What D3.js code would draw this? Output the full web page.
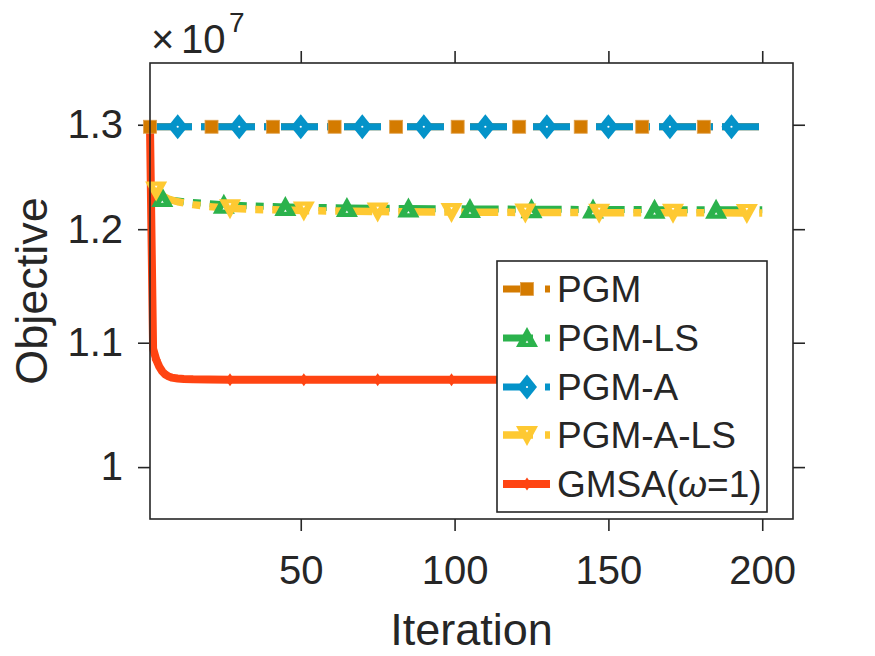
<!DOCTYPE html>
<html>
<head>
<meta charset="utf-8">
<script src="https://cdn.jsdelivr.net/npm/d3@7"></script>
<style>
  html, body { margin: 0; padding: 0; background: #fff; }
  svg { display: block; }
  text { font-family: "Liberation Sans", Arial, Helvetica, sans-serif; fill: #262626; }
</style>
</head>
<body>
<svg id="chart" width="875" height="656"></svg>
<script>
// ---- Data (objective values in units of 1e7) ----
const xTicks = [50, 100, 150, 200];
const yTicks = [1.0, 1.1, 1.2, 1.3];
const yTickLabels = ["1", "1.1", "1.2", "1.3"];
const seriesNames = ["PGM", "PGM-LS", "PGM-A", "PGM-A-LS", "GMSA(\u03c9=1)"];

const pgmIter = [1, 21, 41, 61, 81, 101, 121, 141, 161, 181, 200];
const pgmVal  = [1.298, 1.298, 1.298, 1.298, 1.298, 1.298, 1.298, 1.298, 1.298, 1.298, 1.298];
const pgmMarkers = [1, 21, 41, 61, 81, 101, 121, 141, 161, 181];

const pgmLsIter = [1, 2, 3, 5, 8, 12, 18, 25, 35, 45, 65, 85, 105, 125, 145, 165, 185, 200];
const pgmLsVal  = [1.243, 1.236, 1.232, 1.229, 1.227, 1.2255, 1.2242, 1.2228, 1.2215, 1.2207, 1.2197, 1.2192, 1.2188, 1.2185, 1.2183, 1.2181, 1.2180, 1.2179];
const pgmLsMarkers = [5, 25, 45, 65, 85, 105, 125, 145, 165, 185];

const pgmAIter = [1, 10, 30, 50, 70, 90, 110, 130, 150, 170, 190, 200];
const pgmAVal  = [1.298, 1.298, 1.298, 1.298, 1.298, 1.298, 1.298, 1.298, 1.298, 1.298, 1.298, 1.298];
const pgmAMarkers = [10, 30, 50, 70, 90, 110, 130, 150, 170, 190];

const pgmALsIter = [1, 2, 3, 5, 7, 10, 15, 20, 27, 35, 51, 75, 99, 123, 147, 171, 195, 200];
const pgmALsVal  = [1.245, 1.240, 1.236, 1.231, 1.228, 1.2255, 1.2228, 1.221, 1.2195, 1.2183, 1.2172, 1.2163, 1.2158, 1.2155, 1.2153, 1.2152, 1.2151, 1.2151];
const pgmALsMarkers = [3, 27, 51, 75, 99, 123, 147, 171, 195];

const gmsaIter = [1, 2, 3, 4, 5, 6, 7, 8, 10, 12, 15, 20, 27, 51, 75, 99, 123, 147, 171, 195, 200];
const gmsaVal  = [1.298, 1.095, 1.086, 1.080, 1.076, 1.0735, 1.072, 1.071, 1.0703, 1.0699, 1.0696, 1.0694, 1.0693, 1.0692, 1.0692, 1.0692, 1.0692, 1.0692, 1.0692, 1.0692, 1.0692];
const gmsaMarkers = [3, 27, 51, 75, 99, 123, 147, 171, 195];

// ---- Layout ----
const svg = d3.select("#chart");
const L = 150, R = 793, T = 63, B = 519;
const x = d3.scaleLinear().domain([1, 210]).range([L, R]);
const y = d3.scaleLog().domain([0.961, 1.363]).range([B, T]);
const axisColor = "#262626";

const colors = ["#D47B00", "#2BB24C", "#0493C9", "#FEC932", "#FF4412"];
const series = [
  {name: seriesNames[0], iter: pgmIter,   val: pgmVal,   markers: pgmMarkers,   color: colors[0], marker: "square", dash: true,  width: 7},
  {name: seriesNames[1], iter: pgmLsIter, val: pgmLsVal, markers: pgmLsMarkers, color: colors[1], marker: "up",     dash: true,  width: 7},
  {name: seriesNames[2], iter: pgmAIter,  val: pgmAVal,  markers: pgmAMarkers,  color: colors[2], marker: "diamond",dash: true,  width: 7},
  {name: seriesNames[3], iter: pgmALsIter,val: pgmALsVal,markers: pgmALsMarkers,color: colors[3], marker: "down",   dash: true,  width: 7.5},
  {name: seriesNames[4], iter: gmsaIter,  val: gmsaVal,  markers: gmsaMarkers,  color: colors[4], marker: "small",  dash: false, width: 8}
];

// ---- Axes (outward ticks on all four sides) ----
const fs = 40;
svg.append("g").attr("transform", `translate(0,${B})`)
  .call(d3.axisBottom(x).tickValues(xTicks).tickSize(12).tickPadding(25).tickFormat(d3.format("d")))
  .call(g => g.select(".domain").remove())
  .call(g => g.selectAll("line").attr("stroke", axisColor).attr("stroke-width", 1.6))
  .call(g => g.selectAll("text").attr("font-size", fs).attr("fill", axisColor).style("font-family", "Liberation Sans, Arial, sans-serif"));
svg.append("g").attr("transform", `translate(0,${T})`)
  .call(d3.axisTop(x).tickValues(xTicks).tickSize(12).tickFormat(""))
  .call(g => g.select(".domain").remove())
  .call(g => g.selectAll("line").attr("stroke", axisColor).attr("stroke-width", 1.6));
svg.append("g").attr("transform", `translate(${L},0)`)
  .call(d3.axisLeft(y).tickValues(yTicks).tickSize(12).tickPadding(15).tickFormat((d, i) => yTickLabels[i]))
  .call(g => g.select(".domain").remove())
  .call(g => g.selectAll("line").attr("stroke", axisColor).attr("stroke-width", 1.6))
  .call(g => g.selectAll("text").attr("font-size", fs).attr("fill", axisColor).style("font-family", "Liberation Sans, Arial, sans-serif"));
svg.append("g").attr("transform", `translate(${R},0)`)
  .call(d3.axisRight(y).tickValues(yTicks).tickSize(12).tickFormat(""))
  .call(g => g.select(".domain").remove())
  .call(g => g.selectAll("line").attr("stroke", axisColor).attr("stroke-width", 1.6));

// ---- Lines ----
const plot = svg.append("g");
const lineGen = d3.line().x(d => x(d[0])).y(d => y(d[1]));
series.forEach(s => {
  const pts = s.iter.map((it, i) => [it, s.val[i]]);
  plot.append("path")
    .attr("d", lineGen(pts))
    .attr("fill", "none")
    .attr("stroke", s.color)
    .attr("stroke-width", s.width)
    .attr("stroke-linejoin", "round")
    .attr("stroke-dasharray", s.dash ? "37,9,8,9" : null)
    .attr("stroke-dashoffset", s.dash ? 58 : null);
});

// ---- Markers ----
function drawMarker(g, type, color, cx, cy) {
  const m = g.append("g").attr("transform", `translate(${cx},${cy})`);
  if (type === "square") {
    m.append("rect").attr("x", -6.5).attr("y", -6.5).attr("width", 13).attr("height", 13)
      .attr("fill", color).attr("stroke", "#E0A04A").attr("stroke-width", 0.8);
  } else if (type === "diamond") {
    m.append("path").attr("d", "M0,-12.5L10,0L0,12.5L-10,0Z").attr("fill", color);
    m.append("circle").attr("r", 1.1).attr("fill", "#fff");
  } else if (type === "up") {
    m.append("path").attr("d", "M0,-11L11,9L-11,9Z").attr("fill", color);
    m.append("path").attr("d", "M0,2.5L1.4,4.8L-1.4,4.8Z").attr("fill", "#fff");
  } else if (type === "down") {
    m.append("path").attr("d", "M0,11L11,-9L-11,-9Z").attr("fill", color);
    m.append("path").attr("d", "M0,-2.5L1.4,-4.8L-1.4,-4.8Z").attr("fill", "#fff");
  } else if (type === "small") {
    m.append("path").attr("d", "M0,-6.5L4.5,0L0,6.5L-4.5,0Z").attr("fill", color);
  }
}
series.forEach(s => {
  s.markers.forEach(it => {
    const i = s.iter.indexOf(it);
    drawMarker(plot, s.marker, s.color, x(s.iter[i]), y(s.val[i]));
  });
});

// ---- Box ----
svg.append("rect").attr("x", L).attr("y", T).attr("width", R - L).attr("height", B - T)
  .attr("fill", "none").attr("stroke", axisColor).attr("stroke-width", 1.6);

// ---- Exponent label ----
svg.append("text").attr("x", 151).attr("y", 53).attr("font-size", 40).text("\u00d7");
svg.append("text").attr("x", 181).attr("y", 53).attr("font-size", 40).text("10");
svg.append("text").attr("x", 229).attr("y", 32).attr("font-size", 28).text("7");

// ---- Axis labels ----
svg.append("text").attr("x", (L + R) / 2).attr("y", 645).attr("text-anchor", "middle")
  .attr("font-size", 45).text("Iteration");
svg.append("text").attr("transform", `translate(47,${(T + B) / 2}) rotate(-90)`)
  .attr("text-anchor", "middle").attr("font-size", 45).text("Objective");

// ---- Legend ----
const lg = svg.append("g");
lg.append("rect").attr("x", 497).attr("y", 261).attr("width", 270).attr("height", 251)
  .attr("fill", "#fff").attr("stroke", axisColor).attr("stroke-width", 1.6);
const legendY = [289, 338, 387, 435, 484];
series.forEach((s, i) => {
  const ly = legendY[i];
  lg.append("line").attr("x1", 503).attr("x2", 550).attr("y1", ly).attr("y2", ly)
    .attr("stroke", s.color).attr("stroke-width", s.width)
    .attr("stroke-dasharray", s.dash ? "30,12,5,12" : null);
  drawMarker(lg, s.marker, s.color, 527, ly);
  const t = lg.append("text").attr("x", 557).attr("y", ly).attr("dy", "0.36em")
    .attr("font-size", 37).attr("fill", "#000");
  if (s.name.indexOf("\u03c9") >= 0) {
    const parts = s.name.split("\u03c9");
    t.append("tspan").text(parts[0]);
    t.append("tspan").attr("font-style", "italic").text("\u03c9");
    t.append("tspan").text(parts[1]);
  } else {
    t.text(s.name);
  }
});
</script>
</body>
</html>
